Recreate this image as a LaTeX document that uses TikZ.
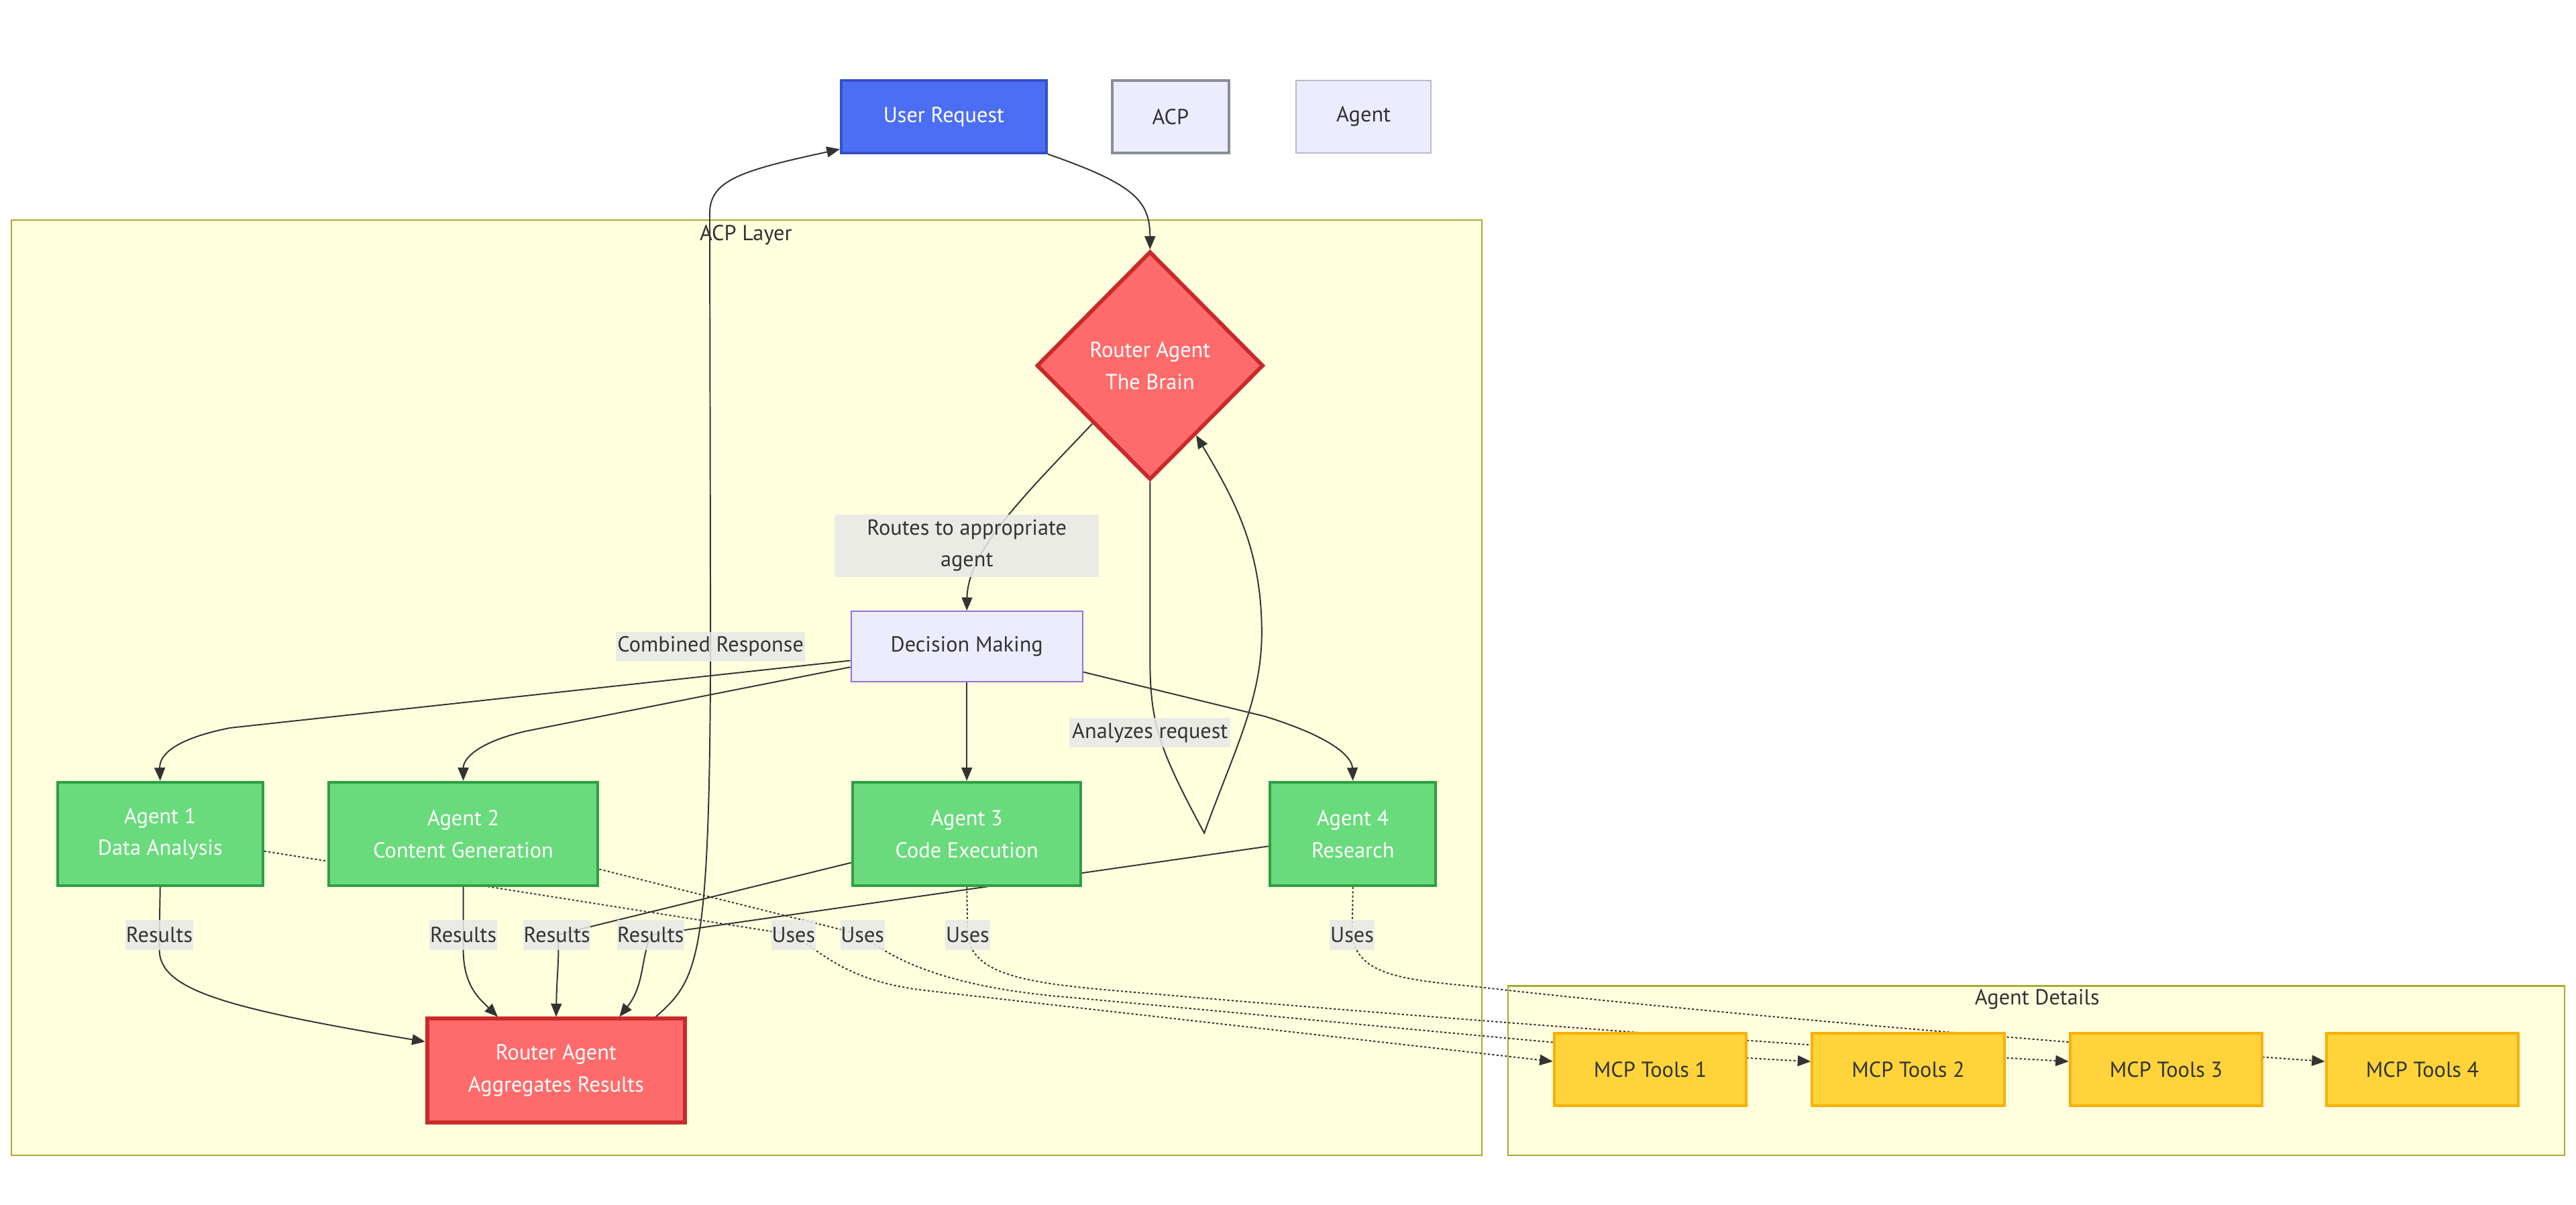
\documentclass[tikz,border=0pt]{standalone}
\usepackage{fontspec}
\setmainfont{PT Sans}
\usetikzlibrary{shapes.geometric,arrows.meta,calc}
\pgfdeclarelayer{bg}
\pgfdeclarelayer{edges}
\pgfsetlayers{bg,edges,main}
\definecolor{clfill}{HTML}{FFFFDE}
\definecolor{clline}{HTML}{AAAA33}
\definecolor{urfill}{HTML}{4C6EF5}
\definecolor{urline}{HTML}{364FC7}
\definecolor{lavfill}{HTML}{ECECFF}
\definecolor{lavline}{HTML}{9370DB}
\definecolor{grayline}{HTML}{868E96}
\definecolor{lightline}{HTML}{B8BBCF}
\definecolor{redfill}{HTML}{FF6B6B}
\definecolor{redline}{HTML}{C92A2A}
\definecolor{agfill}{HTML}{69DB7C}
\definecolor{agline}{HTML}{2F9E44}
\definecolor{mcpfill}{HTML}{FFD43B}
\definecolor{mcpline}{HTML}{FAB005}
\definecolor{edgecol}{HTML}{333333}
\definecolor{txt}{HTML}{333333}
\definecolor{lblbg}{HTML}{E8E8E8}
\tikzset{
  basefont/.style={font=\fontsize{13.2}{19.5}\selectfont},
  box/.style={draw, rectangle, inner sep=0pt, align=center, basefont},
  greenbox/.style={box, fill=agfill, draw=agline, line width=1.6pt, text=white, minimum height=63pt},
  redbox/.style={box, fill=redfill, draw=redline, line width=2.4pt, text=white},
  mcpbox/.style={box, fill=mcpfill, draw=mcpline, line width=1.6pt, text=txt, minimum width=117pt, minimum height=44pt},
  elabel/.style={fill=lblbg, fill opacity=0.85, text opacity=1, text=txt, inner sep=0pt, align=center, basefont, minimum height=18pt},
  cluster/.style={draw=clline, fill=clfill, line width=0.9pt},
  cltext/.style={text=txt, basefont, inner sep=0pt},
  flow/.style={draw=edgecol, line width=0.8pt, -{Triangle[length=8pt,width=6.5pt]}},
  uses/.style={flow, dash pattern=on 1.3pt off 1.3pt},
}
\begin{document}
\begin{tikzpicture}[x=1pt,y=-1pt]
\useasboundingbox (0,0) rectangle (1568,733);

% background and clusters
\begin{pgfonlayer}{bg}
\fill[white] (0,0) rectangle (1568,733);
\draw[cluster] (7,134) rectangle (902,703);
\draw[cluster] (918,600) rectangle (1561,703);
\end{pgfonlayer}
\node[cltext] (acpl) at (454,143) {ACP Layer};
\node[cltext] (agdl) at (1240,608) {Agent Details};

% top nodes
\node[box, fill=urfill, draw=urline, line width=1.6pt, text=white, minimum width=125pt, minimum height=44pt] (ur) at (574.5,71) {User Request};
\node[box, fill=lavfill, draw=grayline, line width=1.8pt, text=txt, minimum width=71pt, minimum height=44pt] (acp) at (712.5,71) {ACP};
\node[box, fill=lavfill, draw=lightline, line width=0.9pt, text=txt, minimum width=82pt, minimum height=44pt] (agl) at (830,71) {Agent};

% brain
\node[diamond, draw=redline, fill=redfill, line width=2.4pt, text=white, inner sep=0pt, minimum width=138pt, minimum height=139pt, align=center, basefont] (brain) at (700,222.5) {Router Agent\\The Brain};

% decision
\node[box, fill=lavfill, draw=lavline, line width=0.8pt, text=txt, minimum width=141pt, minimum height=43pt] (dm) at (588.5,393.5) {Decision Making};

% agents
\node[greenbox, minimum width=125pt] (a1) at (97.5,507.5) {Agent 1\\Data Analysis};
\node[greenbox, minimum width=164pt] (a2) at (282,507.5) {Agent 2\\Content Generation};
\node[greenbox, minimum width=139pt] (a3) at (588.5,507.5) {Agent 3\\Code Execution};
\node[greenbox, minimum width=101pt] (a4) at (823.5,507.5) {Agent 4\\Research};

% aggregator
\node[redbox, minimum width=157pt, minimum height=63pt] (agg) at (338.5,651.5) {Router Agent\\Aggregates Results};

% MCP tools
\node[mcpbox] (m1) at (1004.5,651) {MCP Tools 1};
\node[mcpbox] (m2) at (1161.5,651) {MCP Tools 2};
\node[mcpbox] (m3) at (1318.5,651) {MCP Tools 3};
\node[mcpbox] (m4) at (1474.5,651) {MCP Tools 4};

% edge labels
\node[elabel, minimum width=161pt, minimum height=38pt] (lroute) at (588.5,332) {Routes to appropriate\\agent};
\node[elabel, minimum width=115pt] (lcomb) at (432.5,393.5) {Combined Response};
\node[elabel, minimum width=98pt] (lanal) at (700,446) {Analyzes request};
\node[elabel, minimum width=41pt] (r1) at (97,569) {Results};
\node[elabel, minimum width=41pt] (r2) at (282,569) {Results};
\node[elabel, minimum width=41pt] (r3) at (339,569) {Results};
\node[elabel, minimum width=41pt] (r4) at (396,569) {Results};
\node[elabel, minimum width=27pt] (u1) at (483,569) {Uses};
\node[elabel, minimum width=27pt] (u2) at (525,569) {Uses};
\node[elabel, minimum width=27pt] (u3) at (589,569) {Uses};
\node[elabel, minimum width=27pt] (u4) at (823,569) {Uses};

\begin{pgfonlayer}{edges}
% user request -> brain
\draw[flow] (ur.south east) .. controls (690,112) and (700,122) .. (brain.north);
% brain -> decision
\draw[flow] (brain.south west) .. controls (625,300) and (589,335) .. (dm.north);
% brain self loop
\draw[flow] (brain.south) -- (700,400) .. controls (700,440) and (705,455) .. (733,507)
  .. controls (752,455) and (768,425) .. (768,385)
  .. controls (768,335) and (752,305) .. ($(brain.south)!0.4!(brain.east)$);
% decision -> agents
\draw[flow] ($(dm.west)+(0,8.5)$) -- (140,443) .. controls (105,450) and (97,460) .. (a1.north);
\draw[flow] ($(dm.west)+(0,12.5)$) -- (320,445) .. controls (290,452) and (282,462) .. (a2.north);
\draw[flow] (dm.south) -- (a3.north);
\draw[flow] ($(dm.east)+(0,15.5)$) -- (770,436) .. controls (815,450) and (823,462) .. (a4.north);
% agents -> aggregator
\draw[flow] (a1.south) -- (r1.center) -- (97,578) .. controls (97,603) and (140,614) .. ($(agg.west)+(0,-17.5)$);
\draw[flow] (a2.south) -- (r2.center) -- (282,578) .. controls (282,600) and (292,608) .. ($(agg.north)+(-35.5,0)$);
\draw[flow] ($(a3.west)+(0,17.5)$) -- (r3.center) .. controls (341,580) and (339,590) .. (agg.north);
\draw[flow] ($(a4.west)+(0,7.5)$) -- (r4.center) .. controls (390,585) and (392,600) .. ($(agg.north)+(38.5,0)$);
% aggregator -> user request
\draw[flow] ($(agg.north east)+(-19,0)$) .. controls (425,596) and (432,585) .. (lcomb.center) -- (432,130)
  .. controls (432,110) and (450,104) .. ($(ur.south west)+(0,-3)$);
% uses
\draw[uses] ($(a1.east)+(0,10.5)$) -- (u1.center) .. controls (505,584) and (520,598) .. (565,603) -- ($(m1.west)+(0,-5)$);
\draw[uses] ($(a2.east)+(0,21.5)$) -- (u2.center) .. controls (545,586) and (580,600) .. (640,606) .. controls (850,625) and (1000,641) .. ($(m2.west)+(0,-5)$);
\draw[uses] (a3.south) -- (u3.center) .. controls (592,592) and (620,598) .. (680,603) .. controls (900,622) and (1150,640) .. ($(m3.west)+(0,-5)$);
\draw[uses] (a4.south) -- (u4.center) .. controls (826,592) and (850,596) .. (894,600) .. controls (1050,618) and (1300,638) .. ($(m4.west)+(0,-5)$);
\end{pgfonlayer}
\end{tikzpicture}
\end{document}
